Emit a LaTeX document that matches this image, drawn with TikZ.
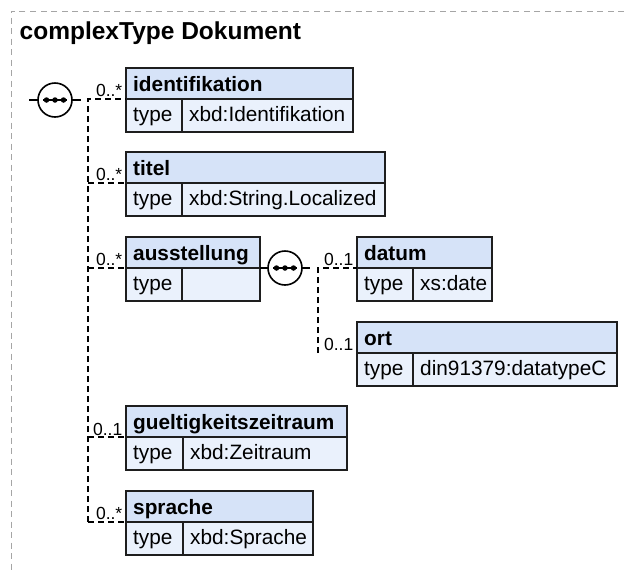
\documentclass[tikz,border=0pt]{standalone}
\usepackage{fontspec}
\setmainfont{Liberation Sans}
\usetikzlibrary{calc}
\definecolor{hdrc}{RGB}{214,227,248}
\definecolor{typc}{RGB}{234,241,252}
\definecolor{bordc}{RGB}{30,30,30}
\definecolor{framec}{RGB}{165,165,165}
\tikzset{
 boxline/.style={draw=bordc, line width=1.6pt},
 hdrcell/.style={boxline, fill=hdrc, rectangle, inner sep=0pt, outer sep=0pt, anchor=north west, minimum height=31pt},
 typcell/.style={boxline, fill=typc, rectangle, inner sep=0pt, outer sep=0pt, anchor=north west, minimum height=33pt},
 lbl/.style={font=\fontsize{20.8}{24}\selectfont\bfseries, inner sep=0pt, anchor=base west},
 txt/.style={font=\fontsize{20.8}{24}\selectfont, inner sep=0pt, anchor=base west},
 mult/.style={font=\fontsize{17.5}{20}\selectfont, inner sep=0pt, anchor=base east},
 titlefont/.style={font=\fontsize{24.5}{28}\selectfont\bfseries, inner sep=0pt, anchor=base west},
 conn/.style={draw=black, line width=1.4pt, dash pattern=on 6pt off 4pt},
 solidc/.style={draw=black, line width=1.4pt},
 comp/.style={circle, draw=black, line width=1.6pt, fill=white, minimum size=34pt, inner sep=0pt, outer sep=0pt},
 dotc/.style={circle, fill=black, minimum size=5.5pt, inner sep=0pt},
 frame/.style={draw=framec, line width=1pt, dash pattern=on 6pt off 4.5pt},
}
\newcommand{\xsdbox}[7]{%
 \node[hdrcell, minimum width={(#4-#2)*1pt}] (#1) at (#2,#3) {};
 \node[typcell, minimum width={(#5-#2)*1pt}] (#1-t) at (#2,#3+31) {};
 \node[typcell, minimum width={(#4-#5)*1pt}] (#1-v) at (#5,#3+31) {};
 \node[lbl] (#1-l) at (#2+7,#3+23) {#6};
 \node[txt] (#1-tt) at (#2+7,#3+53) {type};
 \node[txt] (#1-vt) at (#5+7,#3+53) {#7};
 \coordinate (#1-in) at (#2,#3+31);
}
\newcommand{\xsdcomp}[3]{%
 \node[comp] (#1) at (#2,#3) {};
 \draw[line width=1.4pt] (#2-12,#3) -- (#2+12,#3);
 \node[dotc] (#1-a) at (#2-8.5,#3) {};
 \node[dotc] (#1-b) at (#2,#3) {};
 \node[dotc] (#1-c) at (#2+8.5,#3) {};
}
\begin{document}
\begin{tikzpicture}[x=1pt,y=-1pt]
\useasboundingbox (0,0) rectangle (625,574);
\coordinate (fr-a) at (624,11);
\coordinate (fr-b) at (11,11);
\coordinate (fr-c) at (11,574);
\draw[frame] (fr-a) -- (fr-b) -- (fr-c);
\node[titlefont] (title) at (19.5,39.5) {complexType Dokument};

\xsdbox{ident}{126}{68}{353}{182}{identifikation}{xbd:Identifikation}
\xsdbox{titel}{126}{152}{385}{182}{titel}{xbd:String.Localized}
\xsdbox{aus}{126}{237}{260}{182}{ausstellung}{}
\xsdbox{datum}{357}{237}{492}{413}{datum}{xs:date}
\xsdbox{ort}{357}{322}{617}{413}{ort}{din91379:datatypeC}
\xsdbox{guelt}{126}{406}{347}{183}{gueltigkeitszeitraum}{xbd:Zeitraum}
\xsdbox{spr}{126}{491}{313}{183}{sprache}{xbd:Sprache}

% first compositor
\coordinate (c1-l) at (29,100);
\coordinate (c1-r) at (81,100);
\xsdcomp{c1}{55}{100}
\draw[solidc] (c1-l) -- (c1.west);
\draw[solidc] (c1.east) -- (c1-r);
\coordinate (tr1-top) at (88,99);
\coordinate (tr1-bot) at (88,522);
\draw[conn] (tr1-bot) -- (tr1-top) -- (ident-in);
\draw[conn] (tr1-top |- titel-in) -- (titel-in);
\draw[conn] (tr1-top |- aus-in) -- (aus-in);
\draw[conn] (tr1-top |- guelt-in) -- (guelt-in);
\draw[conn] (tr1-top |- spr-in) -- (spr-in);

% second compositor
\xsdcomp{c2}{285}{268}
\coordinate (c2-r) at (310,268);
\draw[solidc] (aus.south east) -- (c2.west);
\draw[solidc] (c2.east) -- (c2-r);
\coordinate (tr2-top) at (318,268);
\draw[conn] (tr2-top |- ort-in) -- (tr2-top) -- (datum-in);

% multiplicities
\node[mult] (m-ident) at (122.5,96) {0..*};
\node[mult] (m-titel) at (122.5,180) {0..*};
\node[mult] (m-aus) at (122.5,265) {0..*};
\node[mult] (m-datum) at (353.5,265) {0..1};
\node[mult] (m-ort) at (353.5,350) {0..1};
\node[mult] (m-guelt) at (122.5,435) {0..1};
\node[mult] (m-spr) at (122.5,519) {0..*};
\end{tikzpicture}
\end{document}
